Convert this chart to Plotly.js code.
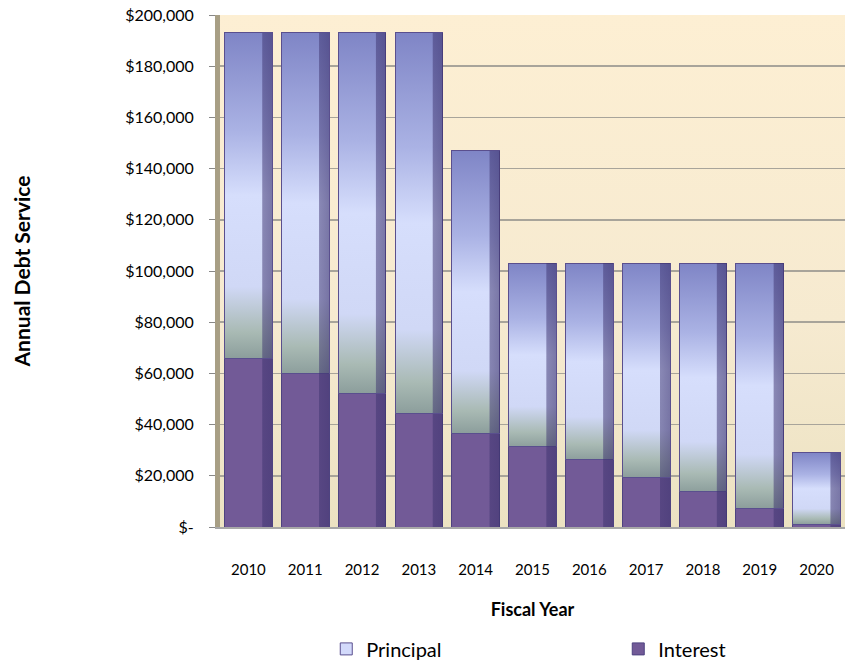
<!DOCTYPE html>
<html><head><meta charset="utf-8">
<script src="https://cdn.plot.ly/plotly-3.0.1.min.js"></script>
<style>body{margin:0;background:#fff}#chart{width:860px;height:663px}</style>
</head><body><div id="chart"></div>
<script>
const years = ['2010','2011','2012','2013','2014','2015','2016','2017','2018','2019','2020'];
const interest = [66000, 59800, 52300, 44500, 36700, 31300, 26200, 19500, 13700, 7400, 1000];
const principal = [127000, 133200, 140700, 148500, 110300, 71700, 76800, 83500, 89300, 95600, 28000];
const yTickVals = [0,20000,40000,60000,80000,100000,120000,140000,160000,180000,200000];
const yTickText = ['$-','$20,000','$40,000','$60,000','$80,000','$100,000','$120,000','$140,000','$160,000','$180,000','$200,000'];

const FONT = 'Lato, "Open Sans", sans-serif';
const data = [
  {type:'bar', name:'Interest', x:years, y:interest,
   marker:{color:'#725a97', line:{color:'#4e4380', width:1}}},
  {type:'bar', name:'Principal', x:years, y:principal,
   marker:{color:'#d3dafb', line:{color:'#5a4f8e', width:1}}}
];
const layout = {
  width:860, height:663,
  margin:{l:220, r:15, t:15, b:136, autoexpand:false},
  paper_bgcolor:'#ffffff', plot_bgcolor:'#f8ecd0',
  barmode:'stack', bargap:0.16,
  showlegend:true,
  legend:{orientation:'h', traceorder:'reversed', x:0.17, xanchor:'left', xref:'paper',
          y:-0.2, yanchor:'top', entrywidth:247, entrywidthmode:'pixels',
          font:{family:FONT, size:20, color:'#000'}},
  xaxis:{type:'category', automargin:false, tickfont:{family:FONT, size:15, color:'#000'}, ticklabelstandoff:28,
         showline:true, linecolor:'#a8a8a8', linewidth:2, ticks:'',
         title:{text:'<b>Fiscal Year</b>', font:{family:FONT, size:18, color:'#000'}, standoff:26}},
  yaxis:{range:[0,200000], automargin:false, tickvals:yTickVals, ticktext:yTickText,
         tickfont:{family:FONT, size:16, color:'#000'},
         ticks:'outside', ticklen:6, tickcolor:'#888', ticklabelstandoff:12,
         showgrid:true, gridcolor:'#a8a49a', gridwidth:1.5,
         showline:true, linecolor:'#a89f85', linewidth:5, zeroline:false,
         title:{text:'<b>Annual Debt Service</b>', font:{family:FONT, size:21, color:'#000'}, standoff:90}}
};
Plotly.newPlot('chart', data, layout, {displayModeBar:false, staticPlot:true}).then(function(){
  const NS = 'http://www.w3.org/2000/svg';
  const svg = document.querySelector('#chart .main-svg');
  const defs = document.createElementNS(NS, 'defs');
  function grad(id, stops, horiz){
    const g = document.createElementNS(NS, 'linearGradient');
    g.setAttribute('id', id); g.setAttribute('x1','0'); g.setAttribute('y1','0');
    g.setAttribute('x2', horiz ? '1' : '0'); g.setAttribute('y2', horiz ? '0' : '1');
    stops.forEach(function(s){
      const st = document.createElementNS(NS, 'stop');
      st.setAttribute('offset', s[0]); st.setAttribute('stop-color', s[1]);
      st.setAttribute('stop-opacity', s[2] === undefined ? 1 : s[2]);
      g.appendChild(st);
    });
    defs.appendChild(g);
  }
  grad('pg', [['0','#7f85c6'],['0.3','#aab2e4'],['0.5','#d6defc'],['0.78','#d0d8f6'],['0.92','#a9bab4'],['1','#8c9e9c']]);
  grad('bgg', [['0','#fdefd3'],['0.6','#f6ead0'],['1','#ece2c2']]);
  grad('side', [['0','#3c326e',0],['0.78','#3c326e',0],['0.8','#3c326e',0.5],['1','#3c326e',0.6]], true);
  svg.insertBefore(defs, svg.firstChild);
  const traces = document.querySelectorAll('#chart .barlayer .trace');
  if (traces[1]) traces[1].querySelectorAll('path').forEach(function(p){ p.style.fill = 'url(#pg)'; });
  traces.forEach(function(t){
    t.querySelectorAll('path').forEach(function(p){
      const c = p.cloneNode(true);
      c.style.fill = 'url(#side)'; c.style.stroke = 'none';
      p.parentNode.insertBefore(c, p.nextSibling);
    });
  });
  const bg = document.querySelector('#chart .bglayer rect.bg');
  if (bg) bg.style.fill = 'url(#bgg)';
});
</script>
</body></html>
